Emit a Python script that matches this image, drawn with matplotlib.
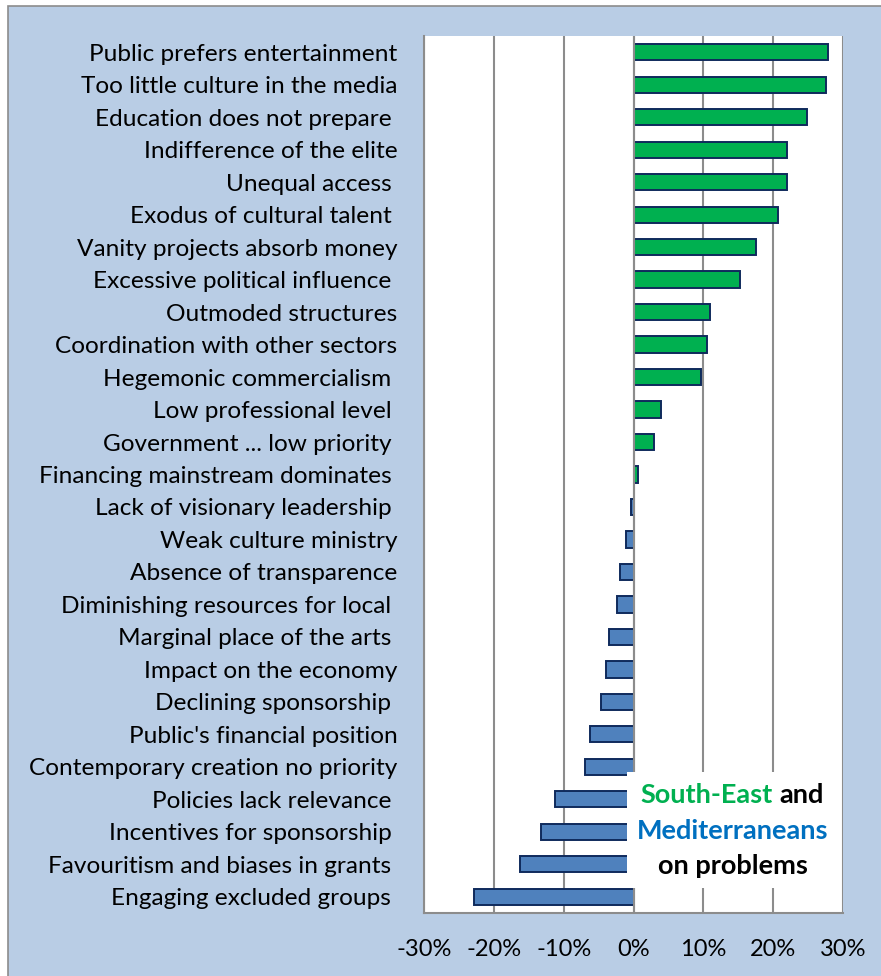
import matplotlib
matplotlib.use("Agg")
import matplotlib.pyplot as plt
from matplotlib.patches import Rectangle

# problems, top to bottom, share (%) of South-East minus Mediterraneans
labels = [
    "Public prefers entertainment",
    "Too little culture in the media",
    "Education does not prepare ",
    "Indifference of the elite",
    "Unequal access ",
    "Exodus of cultural talent ",
    "Vanity projects absorb money",
    "Excessive political influence ",
    "Outmoded structures",
    "Coordination with other sectors",
    "Hegemonic commercialism ",
    "Low professional level ",
    "Government ... low priority ",
    "Financing mainstream dominates ",
    "Lack of visionary leadership ",
    "Weak culture ministry",
    "Absence of transparence",
    "Diminishing resources for local ",
    "Marginal place of the arts ",
    "Impact on the economy",
    "Declining sponsorship ",
    "Public's financial position",
    "Contemporary creation no priority",
    "Policies lack relevance ",
    "Incentives for sponsorship ",
    "Favouritism and biases in grants ",
    "Engaging excluded groups ",
]
values = [27.8, 27.6, 24.8, 22.0, 22.0, 20.7, 17.6, 15.2, 11.0, 10.5, 9.6,
          3.9, 2.9, 0.6, -0.3, -1.1, -1.9, -2.3, -3.5, -3.9, -4.7, -6.3,
          -6.9, -11.2, -13.2, -16.3, -22.9]
xticks = [-30, -20, -10, 0, 10, 20, 30]
xticklabels = ["-30%", "-20%", "-10%", "0%", "10%", "20%", "30%"]

W, H = 881, 976
plt.rcParams['font.family'] = ['Lato', 'DejaVu Sans']

fig = plt.figure(figsize=(W / 100, H / 100), dpi=100)
fig.patch.set_facecolor("white")
# light blue chart area with grey frame, top strip stays white
fig.patches.append(Rectangle((8 / W, -0.01), 1.0, 1 - 6 / H + 0.01,
                             transform=fig.transFigure, facecolor="#b9cde5",
                             edgecolor="#8c8c8c", lw=1.2, zorder=-10))

ax = fig.add_axes([424 / W, 1 - 913 / H, 419 / W, 877 / H])
ax.set_facecolor("white")

ypos = list(range(len(labels)))
colors = ["#00b050" if v >= 0 else "#4f81bd" for v in values]
ax.barh(ypos, values, height=0.5, color=colors, edgecolor="#0f2a5c",
        linewidth=1.4, zorder=3)

ax.set_xlim(-30, 30)
ax.set_ylim(len(labels) - 0.5, -0.5)
ax.set_xticks(xticks)
ax.set_xticklabels(xticklabels, fontsize=17)
ax.set_yticks(ypos)
ax.set_yticklabels(labels, fontsize=17.6)
ax.tick_params(axis="x", length=0, pad=19)
ax.tick_params(axis="y", length=0, pad=19)
ax.grid(axis="x", color="#8c8c8c", lw=1.5, zorder=1)

for side in ["top", "right"]:
    ax.spines[side].set_visible(False)
ax.spines["left"].set_color("#8c8c8c")
ax.spines["bottom"].set_color("#8c8c8c")
ax.spines["left"].set_linewidth(1.5)
ax.spines["bottom"].set_linewidth(1.5)
ax.axvline(0, color="#8c8c8c", lw=1.5, zorder=4)

# white note box over the lower right
ax.add_patch(Rectangle((0.4845, 0.0285), 0.5105, 0.1325, transform=ax.transAxes,
                       facecolor="white", edgecolor="none", zorder=6))

def px(x, y):
    return x / W, 1 - y / H

fs = 19.5
fig.text(*px(773, 795), "South-East", color="#00b050", fontsize=fs,
         fontweight="bold", ha="right", va="center", zorder=7)
fig.text(*px(779, 795), "and", color="black", fontsize=fs,
         fontweight="bold", ha="left", va="center", zorder=7)
fig.text(*px(733, 831), "Mediterraneans", color="#0070c0", fontsize=fs,
         fontweight="bold", ha="center", va="center", zorder=7)
fig.text(*px(733, 866), "on problems", color="black", fontsize=fs,
         fontweight="bold", ha="center", va="center", zorder=7)

fig.savefig("out.png", dpi=100, facecolor=fig.get_facecolor())
